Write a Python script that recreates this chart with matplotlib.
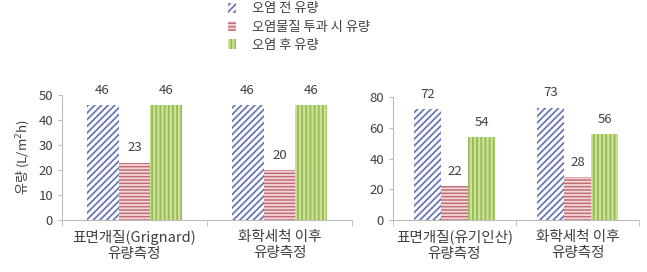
import matplotlib.pyplot as plt
import numpy as np
from matplotlib.patches import Patch

plt.rcParams['font.family'] = ['Noto Sans CJK KR', 'DejaVu Sans']
plt.rcParams['hatch.linewidth'] = 1.3

series_names = ['오염 전 유량', '오염물질 투과 시 유량', '오염 후 유량']
left_cats = ['표면개질(Grignard)\n유량측정', '화학세척 이후\n유량측정']
left_vals = [[46, 46], [23, 20], [46, 46]]
right_cats = ['표면개질(유기인산)\n유량측정', '화학세척 이후\n유량측정']
right_vals = [[72, 73], [22, 28], [54, 56]]

faces = ['white', '#c46a74', '#c8e490']
edges = ['#6a78b8', '#f2dada', '#9ab85c']
hatches = ['/////', '-----', '||||']
txt = '#404040'

fig = plt.figure(figsize=(6.47, 2.72), dpi=100)
ax1 = fig.add_axes([62/647, 1-220/272, 290/647, 125/272])
ax2 = fig.add_axes([393/647, 1-220/272, 246/647, 123/272])


def draw(ax, cats, vals, ymax, step, bw):
    x = np.arange(len(cats))
    for i, v in enumerate(vals):
        bars = ax.bar(x + (i - 1) * bw, v, bw, color=faces[i], edgecolor=edges[i],
                      hatch=hatches[i], linewidth=0)
        ax.bar_label(bars, padding=6, fontsize=9.5, color=txt)
    ax.set_xlim(-0.5, len(cats) - 0.5)
    ax.set_ylim(0, ymax)
    ax.set_yticks(np.arange(0, ymax + 1, step))
    ax.set_xticks(x)
    ax.set_xticklabels(cats, fontsize=10.5, color=txt, linespacing=1.2)
    ax.set_xticks(np.arange(-0.5, len(cats), 1), minor=True)
    ax.tick_params(axis='x', which='major', length=0, pad=7)
    ax.tick_params(axis='x', which='minor', length=4, color='#bbbbbb')
    ax.tick_params(axis='y', labelsize=9.5, labelcolor=txt, color='#bbbbbb', length=3)
    for s in ['top', 'right']:
        ax.spines[s].set_visible(False)
    for s in ['left', 'bottom']:
        ax.spines[s].set_color('#bbbbbb')


draw(ax1, left_cats, left_vals, 50, 10, 0.22)
draw(ax2, right_cats, right_vals, 80, 20, 0.22)
ax1.set_ylabel('유량 (L/m$^2$h)', fontsize=9.5, color=txt, labelpad=4)

handles = [Patch(facecolor=faces[i], edgecolor=edges[i], hatch=hatches[i], linewidth=0)
           for i in range(3)]
fig.legend(handles, series_names, loc='upper center', bbox_to_anchor=(0.462, 1.035),
           frameon=False, fontsize=9.5, handlelength=0.6, handleheight=0.8,
           labelspacing=0.4, handletextpad=1.2, labelcolor=txt)

fig.savefig('out.png', dpi=100)
